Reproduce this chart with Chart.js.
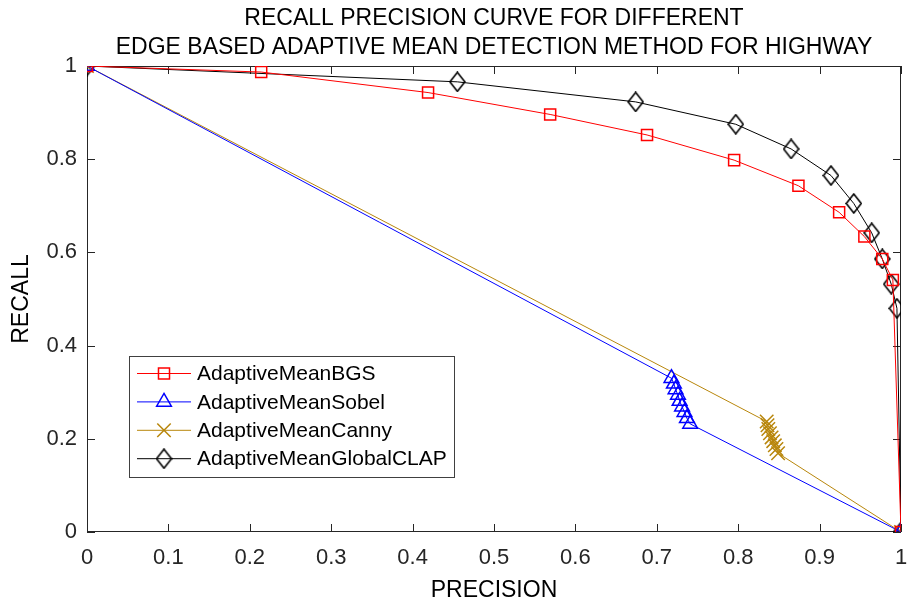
<!DOCTYPE html>
<html>
<head>
<meta charset="utf-8">
<script src="https://cdn.jsdelivr.net/npm/chart.js@4.4.1/dist/chart.umd.min.js"></script>
<style>
  html, body { margin: 0; padding: 0; background: #fff; }
  #wrap { width: 912px; height: 603px; }
</style>
</head>
<body>
<div id="wrap"><canvas id="chart"></canvas></div>
<script>
const titleLines = ["RECALL PRECISION CURVE FOR DIFFERENT", "EDGE BASED ADAPTIVE MEAN DETECTION METHOD FOR HIGHWAY"]
const seriesNames = ["AdaptiveMeanBGS", "AdaptiveMeanSobel", "AdaptiveMeanCanny", "AdaptiveMeanGlobalCLAP"]

const precisionBGS = [0, 0.214, 0.419, 0.569, 0.688, 0.795, 0.874, 0.924, 0.955, 0.977, 0.990, 1]
const recallBGS    = [1, 0.987, 0.943, 0.896, 0.852, 0.798, 0.743, 0.686, 0.634, 0.586, 0.541, 0]

const precisionSobel = [0, 0.718, 0.721, 0.723, 0.726, 0.728, 0.731, 0.734, 0.737, 0.741, 1]
const recallSobel    = [1, 0.330, 0.318, 0.306, 0.294, 0.281, 0.269, 0.257, 0.244, 0.232, 0]

const precisionCanny = [0, 0.835, 0.836, 0.837, 0.839, 0.841, 0.843, 0.845, 0.847, 0.849, 1]
const recallCanny    = [1, 0.237, 0.229, 0.221, 0.212, 0.203, 0.195, 0.186, 0.178, 0.169, 0]

const precisionCLAP = [0, 0.455, 0.674, 0.797, 0.865, 0.914, 0.942, 0.964, 0.977, 0.988, 0.995, 1]
const recallCLAP    = [1, 0.966, 0.923, 0.875, 0.822, 0.765, 0.705, 0.642, 0.586, 0.532, 0.480, 0]

const xTicks = [0, 0.1, 0.2, 0.3, 0.4, 0.5, 0.6, 0.7, 0.8, 0.9, 1]
const yTicks = [0, 0.2, 0.4, 0.6, 0.8, 1]

const axisColor = "#262626"
const fontFamily = "'Liberation Sans', Arial, Helvetica, sans-serif"
const brown = "#b8860b"

// tall MATLAB-like diamond marker
function diamondMarker(color) {
  const c = document.createElement("canvas")
  c.width = 17; c.height = 21
  const g = c.getContext("2d")
  g.strokeStyle = color
  g.lineWidth = 1.6
  g.beginPath()
  g.moveTo(8.5, 1); g.lineTo(16, 10.5); g.lineTo(8.5, 20); g.lineTo(1, 10.5)
  g.closePath()
  g.stroke()
  return c
}

const pts = (xs, ys) => xs.map((x, i) => ({ x: x, y: ys[i] }))

function series(label, xs, ys, color, style, radius) {
  return {
    label: label,
    data: pts(xs, ys),
    showLine: true,
    borderColor: color,
    borderWidth: 1,
    backgroundColor: color,
    pointStyle: style,
    pointRadius: radius,
    pointBorderWidth: 1.5,
    pointBorderColor: color,
    pointBackgroundColor: "rgba(0,0,0,0)",
    tension: 0
  }
}

const datasets = [
  series(seriesNames[0], precisionBGS, recallBGS, "#ff0000", "rect", 7.8),
  series(seriesNames[1], precisionSobel, recallSobel, "#0000ff", "triangle", 8.5),
  series(seriesNames[2], precisionCanny, recallCanny, brown, "crossRot", 9.5),
  series(seriesNames[3], precisionCLAP, recallCLAP, "#000000", diamondMarker("#000000"), 9)
]

const fmt = v => String(+(+v).toFixed(1))

// box, inward ticks, title and legend the MATLAB way
const matlabFrame = {
  id: "matlabFrame",
  beforeDatasetsDraw(chart) {
    const { ctx, chartArea: a, scales } = chart
    ctx.save()
    ctx.strokeStyle = axisColor
    ctx.lineWidth = 1
    ctx.strokeRect(a.left + 0.5, a.top + 0.5, a.right - a.left - 1, a.bottom - a.top - 1)
    const tl = 8
    ctx.beginPath()
    xTicks.forEach(v => {
      const x = Math.round(scales.x.getPixelForValue(v)) + 0.5
      ctx.moveTo(x, a.bottom); ctx.lineTo(x, a.bottom - tl)
      ctx.moveTo(x, a.top); ctx.lineTo(x, a.top + tl)
    })
    yTicks.forEach(v => {
      const y = Math.round(scales.y.getPixelForValue(v)) + 0.5
      ctx.moveTo(a.left, y); ctx.lineTo(a.left + tl, y)
      ctx.moveTo(a.right, y); ctx.lineTo(a.right - tl, y)
    })
    ctx.stroke()
    ctx.restore()
  },
  afterDraw(chart) {
    const { ctx, chartArea: a } = chart
    ctx.save()
    // title
    ctx.fillStyle = "#000"
    ctx.font = "23px " + fontFamily
    ctx.textAlign = "center"
    ctx.textBaseline = "middle"
    const cx = (a.left + a.right) / 2
    titleLines.forEach((t, i) => ctx.fillText(t, cx, 19 + i * 29))

    // legend
    ctx.font = "21px " + fontFamily
    const textX = 197
    const maxW = Math.max(...chart.data.datasets.map(d => ctx.measureText(d.label).width))
    const left = 129.5, top = 356.5, bottom = 477.5
    const right = Math.round(textX + maxW + 7) + 0.5
    ctx.fillStyle = "#fff"
    ctx.fillRect(left, top, right - left, bottom - top)
    ctx.strokeStyle = "#404040"
    ctx.lineWidth = 1
    ctx.strokeRect(left, top, right - left, bottom - top)
    chart.data.datasets.forEach((d, i) => {
      const y = 373.5 + i * 28.4
      ctx.strokeStyle = d.borderColor
      ctx.lineWidth = 1
      ctx.beginPath()
      ctx.moveTo(137, y); ctx.lineTo(191, y)
      ctx.stroke()
      ctx.fillStyle = "rgba(0,0,0,0)"
      ctx.lineWidth = d.pointBorderWidth
      Chart.helpers.drawPoint(ctx, {
        pointStyle: d.pointStyle, rotation: 0, radius: d.pointRadius, borderWidth: d.pointBorderWidth
      }, 164, y)
      ctx.fillStyle = "#000"
      ctx.textAlign = "left"
      ctx.textBaseline = "middle"
      ctx.fillText(d.label, textX, y + 1)
    })
    ctx.restore()
  }
}

new Chart(document.getElementById("chart"), {
  type: "scatter",
  data: { datasets: datasets },
  plugins: [matlabFrame],
  options: {
    responsive: true,
    maintainAspectRatio: false,
    animation: false,
    devicePixelRatio: 1,
    layout: { padding: { top: 66, right: 0, left: 0, bottom: 0 } },
    plugins: {
      legend: { display: false },
      tooltip: { enabled: false }
    },
    scales: {
      x: {
        type: "linear",
        min: 0,
        max: 1,
        afterBuildTicks: s => { s.ticks = xTicks.map(v => ({ value: v })) },
        afterFit: s => { s.height = 71; s.paddingRight = 6; s.paddingLeft = 6 },
        grid: { display: false, drawTicks: false },
        border: { display: false },
        ticks: {
          padding: 13,
          color: axisColor,
          font: { family: fontFamily, size: 22 },
          maxRotation: 0,
          autoSkip: false,
          callback: fmt
        },
        title: {
          display: true,
          text: "PRECISION",
          color: "#000",
          font: { family: fontFamily, size: 23, lineHeight: 1.1 },
          padding: { top: 0, bottom: 0 }
        }
      },
      y: {
        type: "linear",
        min: 0,
        max: 1,
        afterBuildTicks: s => { s.ticks = yTicks.map(v => ({ value: v })) },
        afterFit: s => { s.width = 87; s.paddingTop = 0; s.paddingBottom = 0 },
        grid: { display: false, drawTicks: false },
        border: { display: false },
        ticks: {
          padding: 10,
          color: axisColor,
          font: { family: fontFamily, size: 22 },
          autoSkip: false,
          callback: fmt
        },
        title: {
          display: true,
          text: "RECALL",
          color: "#000",
          font: { family: fontFamily, size: 23 },
          padding: { top: 8, bottom: 0 }
        }
      }
    }
  }
})
</script>
</body>
</html>
